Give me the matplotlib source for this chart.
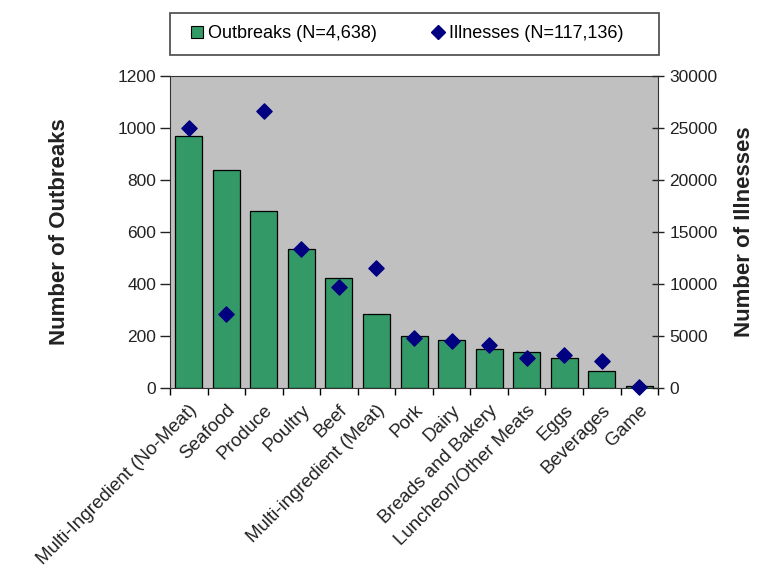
import matplotlib
matplotlib.use("Agg")
import matplotlib.pyplot as plt
from matplotlib.lines import Line2D
from matplotlib.patches import Rectangle
import numpy as np

plt.rcParams['font.family'] = ['Liberation Sans', 'DejaVu Sans']

categories = ["Multi-Ingredient (No-Meat)", "Seafood", "Produce", "Poultry", "Beef",
              "Multi-ingredient (Meat)", "Pork", "Dairy", "Breads and Bakery",
              "Luncheon/Other Meats", "Eggs", "Beverages", "Game"]
outbreaks = [970, 840, 682, 535, 422, 285, 200, 186, 150, 138, 116, 66, 8]
illnesses = [25000, 7100, 26600, 13400, 9700, 11500, 4800, 4500, 4100, 2900, 3200, 2600, 100]

left_ticks = [0, 200, 400, 600, 800, 1000, 1200]
right_ticks = [0, 5000, 10000, 15000, 20000, 25000, 30000]

bar_color = "#339966"
marker_color = "#000080"
bg_color = "#c0c0c0"
text_color = "#222222"

fig = plt.figure(figsize=(7.59, 5.78), dpi=100)
ax = fig.add_axes([0.224, 0.329, 0.643, 0.5395])
ax.set_facecolor(bg_color)

x = np.arange(len(categories))
ax.bar(x, outbreaks, width=0.72, color=bar_color, edgecolor="black", linewidth=0.9, zorder=2)
ax.set_xlim(-0.5, len(categories) - 0.5)
ax.set_ylim(0, 1200)
ax.set_yticks(left_ticks)
ax.tick_params(axis="y", direction="out", length=7, labelsize=12.5, colors=text_color,
               width=1, pad=3)

ax.set_xticks(x)
ax.set_xticklabels(categories, rotation=45, ha="right", rotation_mode="anchor",
                   fontsize=13.5, color=text_color)
ax.tick_params(axis="x", which="major", length=0, pad=10)
ax.set_xticks(np.arange(-0.5, len(categories)), minor=True)
ax.tick_params(axis="x", which="minor", direction="out", length=5, width=1)

for s in ["left", "bottom", "top"]:
    ax.spines[s].set_color("#333333")
ax.spines["right"].set_visible(False)

ax2 = ax.twinx()
ax2.scatter(x, illnesses, marker="D", s=60, color=marker_color, zorder=5, clip_on=False)
ax2.set_ylim(0, 30000)
ax2.set_yticks(right_ticks)
ax2.tick_params(axis="y", direction="inout", length=8, labelsize=12.5, colors=text_color,
                width=1, pad=4)
for s in ["left", "bottom", "top"]:
    ax2.spines[s].set_visible(False)
ax2.spines["right"].set_color("#333333")

ax.set_ylabel("Number of Outbreaks", fontsize=16, fontweight="bold", labelpad=34,
              color=text_color)
ax2.set_ylabel("Number of Illnesses", fontsize=16, fontweight="bold", labelpad=12,
               color=text_color)

# Legend box across the top of the plot area
frame = Rectangle((170 / 759, 1 - 55 / 578), (659 - 170) / 759, 42 / 578,
                  transform=fig.transFigure, facecolor="white", edgecolor="#555555",
                  linewidth=1.3)
fig.patches.append(frame)

handles = [
    Line2D([], [], marker="s", linestyle="none", markersize=9, markerfacecolor=bar_color,
           markeredgecolor="black", markeredgewidth=0.8),
    Line2D([], [], marker="D", linestyle="none", markersize=7, color=marker_color),
]
labels = ["Outbreaks (N=4,638)", "Illnesses (N=117,136)"]
fig.legend(handles, labels, loc="center left", bbox_to_anchor=(188 / 759, 1 - 34 / 578),
           ncol=2, fontsize=13, frameon=False, handletextpad=0.1, handlelength=1.0,
           borderpad=0.0, columnspacing=2.9, borderaxespad=0)

fig.savefig("out.png", dpi=100, facecolor="white")
